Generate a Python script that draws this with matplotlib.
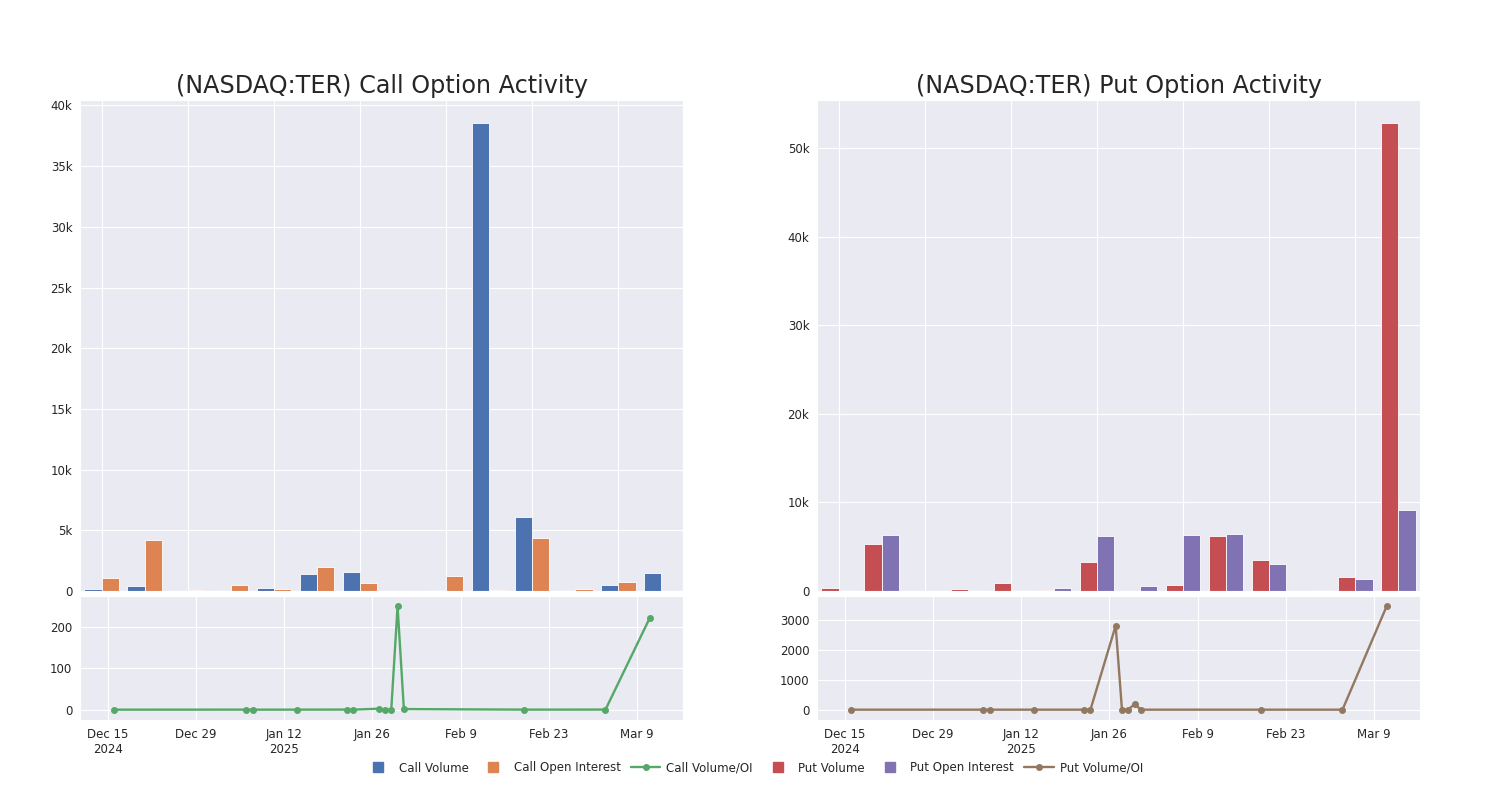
"""Option activity chart for NASDAQ:TER"""

import matplotlib

matplotlib.use("Agg")

import matplotlib.dates as mdates
import matplotlib.pyplot as plt
import pandas as pd
import seaborn as sns
from matplotlib.lines import Line2D
from matplotlib.ticker import FixedLocator, FuncFormatter, MultipleLocator

# weekly buckets (bar groups)
weeks = ["2024-12-15", "2024-12-22", "2024-12-29", "2025-01-05", "2025-01-12",
         "2025-01-19", "2025-01-26", "2025-02-02", "2025-02-09", "2025-02-16",
         "2025-02-23", "2025-03-02", "2025-03-09", "2025-03-16"]

call_volume = [165, 440, 20, 80, 250, 1430, 1570, 20, 110, 38520, 6060, 80, 520, 1490]
call_oi = [1100, 4240, 80, 470, 190, 1980, 660, 30, 1210, 110, 4330, 190, 720, 0]

put_volume = [380, 5360, 40, 260, 870, 75, 3320, 40, 720, 6190, 3510, 0, 1590, 52800]
put_oi = [150, 6300, 0, 110, 110, 340, 6230, 600, 6340, 6490, 3020, 75, 1320, 9100]

# daily volume / open interest ratio
ratio_dates = ["2024-12-16", "2025-01-06", "2025-01-07", "2025-01-14", "2025-01-22",
               "2025-01-23", "2025-01-27", "2025-01-28", "2025-01-29", "2025-01-30",
               "2025-01-31", "2025-02-19", "2025-03-04", "2025-03-11"]
call_ratio = [0.1, 0.2, 0.1, 0.2, 0.3, 0.2, 2.4, 0.4, 0.3, 250, 1.5, 0.2, 0.3, 221]
put_ratio = [0, 0, 0, 0, 0, 0, 2800, 0, 0, 189, 0, 0, 0, 3444]

tick_dates = ["2024-12-15", "2024-12-29", "2025-01-12", "2025-01-26",
              "2025-02-09", "2025-02-23", "2025-03-09"]
tick_labels = ["Dec 15\n2024", "Dec 29", "Jan 12\n2025", "Jan 26",
               "Feb 9", "Feb 23", "Mar 9"]

sns.set_style("darkgrid")
plt.rcParams["font.family"] = ["DejaVu Sans"]
pal = sns.color_palette("deep")
BLUE, ORANGE, GREEN, RED, PURPLE, BROWN = pal[0], pal[1], pal[2], pal[3], pal[4], pal[5]

TICK_FS = 8.5


def k_fmt(v, _pos):
    if v == 0:
        return "0"
    return f"{v / 1000:g}k"


def bar_panel(ax, vol, oi, c1, c2, title):
    x = list(range(len(weeks)))
    w = 0.4
    ax.bar([i - w / 2 for i in x], vol, width=w, color=c1, edgecolor="white", linewidth=0.6)
    ax.bar([i + w / 2 for i in x], oi, width=w, color=c2, edgecolor="white", linewidth=0.6)
    ax.set_xlim(-0.5, len(weeks) - 0.5)
    ax.xaxis.set_major_locator(FixedLocator(list(range(0, len(weeks) - 1, 2))))
    ax.tick_params(axis="x", labelbottom=False, length=0)
    ax.yaxis.set_major_formatter(FuncFormatter(k_fmt))
    ax.tick_params(axis="y", labelsize=TICK_FS, pad=2)
    ax.set_title(title, fontsize=17.2, pad=5)


def ratio_panel(ax, ratio, color, step):
    d = pd.to_datetime(ratio_dates)
    ax.plot(d, ratio, color=color, marker="o", markersize=4, linewidth=1.7)
    ax.margins(y=0.1)
    x0 = mdates.date2num(pd.Timestamp("2024-12-15")) - 4.4
    ax.set_xlim(x0, x0 + 95.7)
    ax.xaxis.set_major_locator(FixedLocator(mdates.date2num(pd.to_datetime(tick_dates))))
    ax.set_xticklabels(tick_labels)
    ax.yaxis.set_major_locator(MultipleLocator(step))
    ax.tick_params(labelsize=TICK_FS, pad=2)


fig = plt.figure(figsize=(15, 8), dpi=100)

lefts = [80 / 1500, 817 / 1500]
width = 603 / 1500
top_box = (1 - 591 / 800, 491 / 800)
low_box = (1 - 720 / 800, 124 / 800)

ax_call = fig.add_axes([lefts[0], top_box[0], width, top_box[1]])
ax_call_r = fig.add_axes([lefts[0], low_box[0], width, low_box[1]])
ax_put = fig.add_axes([lefts[1], top_box[0], width, top_box[1]])
ax_put_r = fig.add_axes([lefts[1], low_box[0], width, low_box[1]])

bar_panel(ax_call, call_volume, call_oi, BLUE, ORANGE, "(NASDAQ:TER) Call Option Activity")
bar_panel(ax_put, put_volume, put_oi, RED, PURPLE, "(NASDAQ:TER) Put Option Activity")
ratio_panel(ax_call_r, call_ratio, GREEN, 100)
ratio_panel(ax_put_r, put_ratio, BROWN, 1000)

handles = [
    Line2D([], [], color=BLUE, marker="s", linestyle="none", markersize=7),
    Line2D([], [], color=ORANGE, marker="s", linestyle="none", markersize=7),
    Line2D([], [], color=GREEN, marker="o", markersize=4, linewidth=1.7),
    Line2D([], [], color=RED, marker="s", linestyle="none", markersize=7),
    Line2D([], [], color=PURPLE, marker="s", linestyle="none", markersize=7),
    Line2D([], [], color=BROWN, marker="o", markersize=4, linewidth=1.7),
]
labels = ["Call Volume", "Call Open Interest", "Call Volume/OI",
          "Put Volume", "Put Open Interest", "Put Volume/OI"]
fig.legend(handles, labels, loc="center", bbox_to_anchor=(0.502, 1 - 768 / 800),
           ncol=6, frameon=False, fontsize=TICK_FS, handlelength=2.5,
           handletextpad=0.5, columnspacing=0.85)

fig.savefig("out.png", dpi=100)
